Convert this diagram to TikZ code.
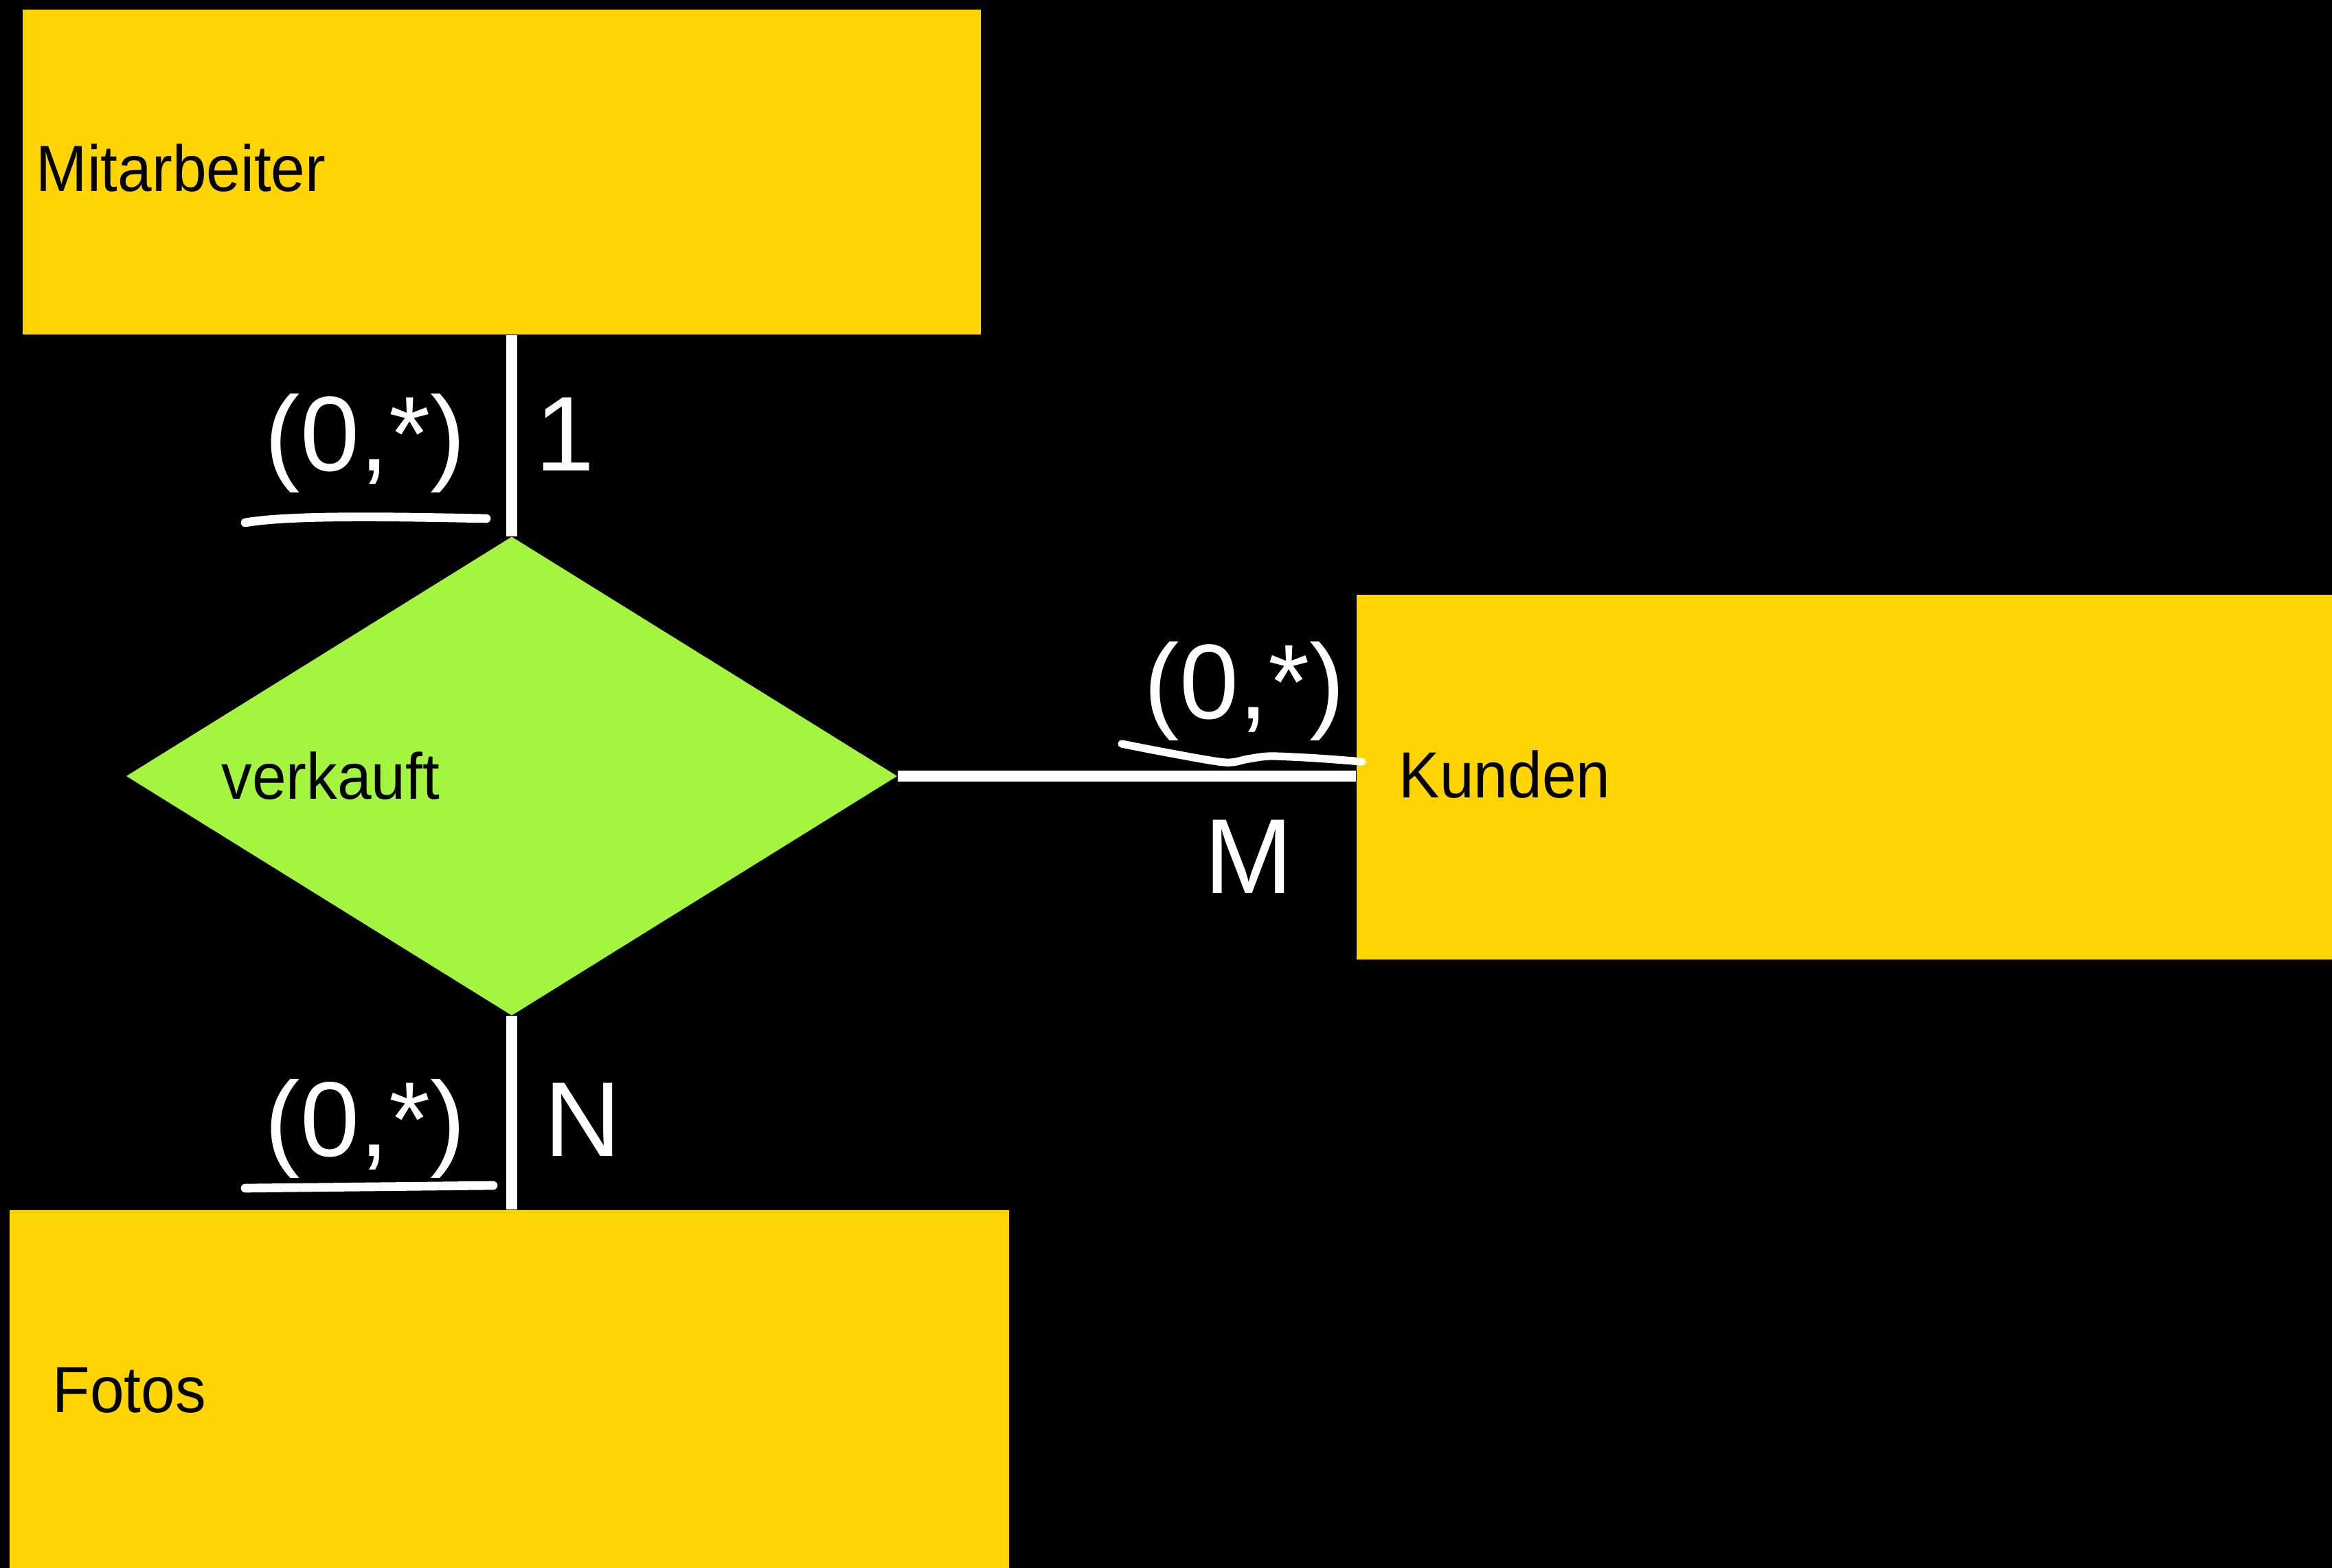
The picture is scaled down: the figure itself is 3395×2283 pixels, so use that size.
\documentclass[tikz,border=0pt]{standalone}
\usepackage{fontspec}
\setmainfont{Liberation Sans}[FakeStretch=0.94]
\newfontfamily\cardfont{Liberation Sans}
\usetikzlibrary{shapes.geometric}
\definecolor{boxyellow}{RGB}{255,212,0}
\definecolor{relgreen}{RGB}{163,245,64}
\begin{document}
\begin{tikzpicture}[x=0.01cm,y=-0.01cm,
  entity/.style={fill=boxyellow, draw=none, inner sep=0pt, anchor=north west},
  relation/.style={diamond, fill=relgreen, draw=none, inner sep=0pt},
  conn/.style={draw=white, line width=4.3pt},
  uline/.style={draw=white, line width=3.6pt, line cap=round},
  ename/.style={text=black, font=\fontsize{27pt}{30pt}\selectfont, inner sep=0pt, anchor=base west},
  card/.style={text=white, font=\cardfont\fontsize{44pt}{48pt}\selectfont, inner sep=0pt, anchor=base}
]
\fill[black] (0,0) rectangle (3395,2283);
\useasboundingbox (0,0) rectangle (3395,2283);

% entities
\node[entity, minimum width=13.94cm, minimum height=4.73cm] (m) at (32,13) {};
\node[entity, minimum width=14.21cm, minimum height=5.31cm] (k) at (1974,865) {};
\node[entity, minimum width=14.54cm, minimum height=5.22cm] (f) at (13,1761) {};

% relationship
\node[relation, minimum width=11.22cm, minimum height=6.97cm] (d) at (745,1130) {};

% connectors
\draw[conn] (d.north) -- (d.north |- m.south);
\draw[conn] (d.east) -- (d.east -| k.west);
\draw[conn] (d.south) -- (d.south |- f.north);

% names
\node[ename] (tm) at (52,279) {Mitarbeiter};
\node[ename] (tk) at (2036,1161) {Kunden};
\node[ename] (tf) at (76,2056) {Fotos};
\node[ename] (tv) at (322,1163) {verkauft};

% cardinalities
\node[card] (c1) at (532,686) {(0,*)};
\node[card] (c2) at (823,686) {1};
\node[card] (c3) at (1812,1046) {(0,*)};
\node[card] (c4) at (1818,1300) {M};
\node[card] (c5) at (532,1683) {(0,*)};
\node[card] (c6) at (848,1683) {N};

% hand-drawn underlines
\draw[uline] (357,761) .. controls (420,750) and (560,752) .. (708,755);
\draw[uline, line width=3.2pt] plot[smooth] coordinates {(1633,1083) (1700,1096) (1783,1110) (1817,1105) (1850,1101) (1917,1104) (1983,1109)};
\draw[uline] (357,1730) -- (718,1726);
\end{tikzpicture}
\end{document}
